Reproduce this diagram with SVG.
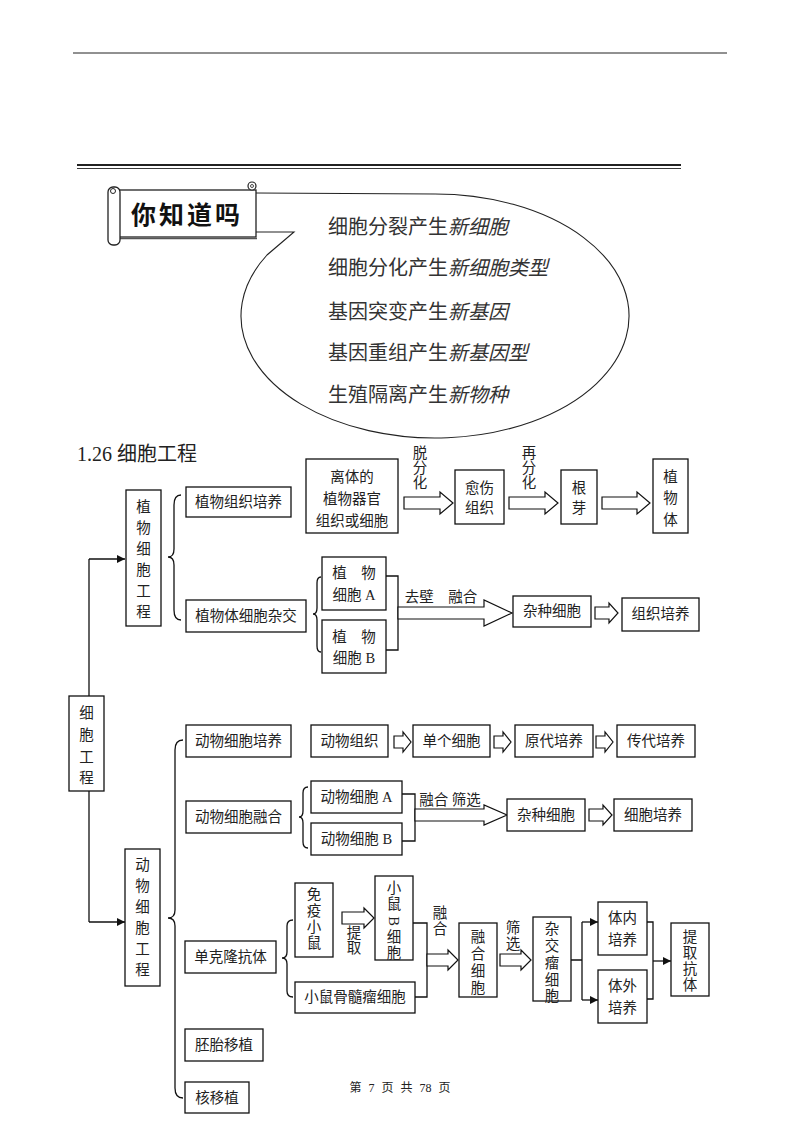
<svg xmlns="http://www.w3.org/2000/svg" width="800" height="1132" viewBox="0 0 800 1132">
<defs>
<style>
.b{fill:#fff;stroke:#111;stroke-width:1.3}
.t{font-family:"Liberation Serif","Noto Sans CJK SC",serif;font-size:14.5px;fill:#222;text-anchor:middle}
.ln{fill:none;stroke:#111;stroke-width:1.3}
.ha{fill:#fff;stroke:#111;stroke-width:1.2}
.bt{font-family:"Noto Sans CJK SC",sans-serif;font-size:20px;fill:#333}
</style>
<marker id="ah" viewBox="0 0 10 10" refX="10" refY="5" markerWidth="8" markerHeight="8" markerUnits="userSpaceOnUse" orient="auto">
<path d="M0,0 L10,5 L0,10 Z" fill="#111"/>
</marker>
</defs>
<rect width="800" height="1132" fill="#fff"/>

<!-- page header lines -->
<line x1="73" y1="53" x2="727" y2="53" stroke="#222" stroke-width="1"/>
<line x1="77" y1="165" x2="681" y2="165" stroke="#222" stroke-width="2.2"/>
<line x1="77" y1="168.5" x2="681" y2="168.5" stroke="#222" stroke-width="0.9"/>

<!-- speech bubble -->
<g id="bubble">
<path d="M256,193 L435,194 A194,122 0 1 1 267,255 L294,232 L256,232" fill="#fff" stroke="#222" stroke-width="1.1"/>
<text class="bt" x="328" y="234">细胞分裂产生<tspan font-style="italic">新细胞</tspan></text>
<text class="bt" x="328" y="275">细胞分化产生<tspan font-style="italic">新细胞类型</tspan></text>
<text class="bt" x="328" y="319">基因突变产生<tspan font-style="italic">新基因</tspan></text>
<text class="bt" x="328" y="360">基因重组产生<tspan font-style="italic">新基因型</tspan></text>
<text class="bt" x="328" y="402">生殖隔离产生<tspan font-style="italic">新物种</tspan></text>
</g>

<!-- banner -->
<g id="banner">
<rect x="115" y="190" width="141" height="47" fill="#fff" stroke="#222" stroke-width="1.3"/>
<line x1="118" y1="238.5" x2="257" y2="238.5" stroke="#555" stroke-width="1.5"/>
<rect x="108" y="187" width="12" height="58" rx="5" fill="#fff" stroke="#222" stroke-width="1.3"/>
<circle cx="113" cy="191" r="2.5" fill="none" stroke="#222" stroke-width="1"/>
<circle cx="252" cy="186" r="4" fill="#fff" stroke="#222" stroke-width="1.2"/>
<circle cx="252" cy="186" r="1.5" fill="none" stroke="#222" stroke-width="0.8"/>
<text x="187" y="224" font-family="'Noto Sans CJK SC',sans-serif" font-size="25" font-weight="bold" letter-spacing="3" fill="#111" text-anchor="middle">你知道吗</text>
</g>

<text x="77" y="461" font-family="'Liberation Serif','Noto Sans CJK SC',serif" font-size="20" fill="#222">1.26 细胞工程</text>

<!-- connectors -->
<g id="connectors">
<path class="ln" d="M89,922 L89,791 M89,696 L89,559"/>
<line class="ln" x1="89" y1="559" x2="125" y2="559" marker-end="url(#ah)"/>
<line class="ln" x1="89" y1="922" x2="125" y2="922" marker-end="url(#ah)"/>
<!-- braces -->
<path class="ln" d="M181,495 Q174,495 174,505 L174,549 Q174,557 168,557 Q174,557 174,565 L174,610 Q174,620 181,620"/>
<path class="ln" d="M183,740 Q175,740 175,750 L175,910 Q175,918 168,918 Q175,918 175,926 L175,1088 Q175,1098 183,1098"/>
<path class="ln" d="M321,577 Q317,577 317,583 L317,608 Q317,614 313,614 Q317,614 317,620 L317,646 Q317,652 321,652"/>
<path class="ln" d="M308,787 Q303,787 303,793 L303,811 Q303,817 299,817 Q303,817 303,823 L303,842 Q303,848 308,848"/>
<path class="ln" d="M293,920 Q287,920 287,926 L287,952 Q287,958 282,958 Q287,958 287,964 L287,991 Q287,997 293,997"/>
<!-- bracket joins -->
<path class="ln" d="M386,576 L398,576 L398,650 L386,650"/>
<path class="ln" d="M402,794 L415,794 L415,841 L402,841"/>
<path class="ln" d="M413,923 L427,923 L427,997 L415,997"/>
<path class="ln" d="M571,960 L582,960 M582,922 L582,1000"/>
<line class="ln" x1="582" y1="922" x2="598" y2="922" marker-end="url(#ah)"/>
<line class="ln" x1="582" y1="1000" x2="598" y2="1000" marker-end="url(#ah)"/>
<path class="ln" d="M647,922 L653,922 L653,999 L647,999"/>
<line class="ln" x1="653" y1="961" x2="671" y2="961" marker-end="url(#ah)"/>
<!-- hollow arrows -->
<path class="ha" d="M404,497 L440,497 L440,492 L453,503 L440,514 L440,509 L404,509 Z"/>
<path class="ha" d="M509,497 L545,497 L545,492 L558,503 L545,514 L545,509 L509,509 Z"/>
<path class="ha" d="M602,497 L637,497 L637,492 L650,503 L637,514 L637,509 L602,509 Z"/>
<path class="ha" d="M398,607 L484,607 L484,600 L512,613 L484,626 L484,619 L398,619 Z"/>
<path class="ha" d="M595,607 L609,607 L609,603 L618,613 L609,623 L609,619 L595,619 Z"/>
<path class="ha" d="M394,736 L403,736 L403,732 L411,742 L403,752 L403,748 L394,748 Z"/>
<path class="ha" d="M494,736 L503,736 L503,732 L511,742 L503,752 L503,748 L494,748 Z"/>
<path class="ha" d="M596,736 L605,736 L605,732 L613,742 L605,752 L605,748 L596,748 Z"/>
<path class="ha" d="M415,809 L484,809 L484,805 L507,815 L484,825 L484,821 L415,821 Z"/>
<path class="ha" d="M589,809 L603,809 L603,805 L612,815 L603,825 L603,821 L589,821 Z"/>
<path class="ha" d="M342,912 L364,912 L364,908 L374,918 L364,928 L364,924 L342,924 Z"/>
<path class="ha" d="M427,954 L448,954 L448,950 L458,960 L448,970 L448,966 L427,966 Z"/>
<path class="ha" d="M500,954 L521,954 L521,950 L531,960 L521,970 L521,966 L500,966 Z"/>
<!-- labels -->
<text class="t" x="420"><tspan x="420" y="458">脱</tspan><tspan x="420" y="473">分</tspan><tspan x="420" y="488">化</tspan></text>
<text class="t" x="529"><tspan x="529" y="458">再</tspan><tspan x="529" y="473">分</tspan><tspan x="529" y="488">化</tspan></text>
<text class="t" x="441" y="602">去壁　融合</text>
<text class="t" x="450" y="805">融合 筛选</text>
<text class="t"><tspan x="354" y="938">提</tspan><tspan x="354" y="953">取</tspan></text>
<text class="t"><tspan x="440" y="918">融</tspan><tspan x="440" y="934">合</tspan></text>
<text class="t"><tspan x="513" y="933">筛</tspan><tspan x="513" y="949">选</tspan></text>
</g>

<!-- root -->
<g id="n-root">
<rect class="b" x="69" y="696" width="35" height="95"/>
<text class="t"><tspan x="86.5" y="718">细</tspan><tspan x="86.5" y="740">胞</tspan><tspan x="86.5" y="762">工</tspan><tspan x="86.5" y="783">程</tspan></text>
</g>

<!-- plant -->
<g id="n-plant">
<rect class="b" x="126" y="490" width="35" height="136"/>
<text class="t"><tspan x="143.5" y="512">植</tspan><tspan x="143.5" y="533">物</tspan><tspan x="143.5" y="554">细</tspan><tspan x="143.5" y="575">胞</tspan><tspan x="143.5" y="596">工</tspan><tspan x="143.5" y="617">程</tspan></text>
</g>
<g id="n-ptc"><rect class="b" x="186" y="487" width="105" height="30"/><text class="t" x="238.5" y="507">植物组织培养</text></g>
<g id="n-psh"><rect class="b" x="186" y="600" width="120" height="32"/><text class="t" x="246" y="621">植物体细胞杂交</text></g>
<g id="n-explant"><rect class="b" x="306" y="459" width="92" height="74"/>
<text class="t"><tspan x="352" y="482">离体的</tspan><tspan x="352" y="504">植物器官</tspan><tspan x="352" y="526">组织或细胞</tspan></text></g>
<g id="n-callus"><rect class="b" x="455" y="470" width="49" height="54"/>
<text class="t"><tspan x="479.5" y="493">愈伤</tspan><tspan x="479.5" y="513">组织</tspan></text></g>
<g id="n-bud"><rect class="b" x="561" y="470" width="36" height="54"/>
<text class="t"><tspan x="579" y="493">根</tspan><tspan x="579" y="513">芽</tspan></text></g>
<g id="n-plantbody"><rect class="b" x="653" y="459" width="35" height="74"/>
<text class="t"><tspan x="670.5" y="482">植</tspan><tspan x="670.5" y="503">物</tspan><tspan x="670.5" y="525">体</tspan></text></g>
<g id="n-pa"><rect class="b" x="322" y="557" width="64" height="53"/>
<text class="t"><tspan x="354" y="578">植　物</tspan><tspan x="354" y="600">细胞 A</tspan></text></g>
<g id="n-pb"><rect class="b" x="322" y="620" width="64" height="53"/>
<text class="t"><tspan x="354" y="642">植　物</tspan><tspan x="354" y="663">细胞 B</tspan></text></g>
<g id="n-phyb"><rect class="b" x="513" y="596" width="78" height="31"/><text class="t" x="552" y="616">杂种细胞</text></g>
<g id="n-ptc2"><rect class="b" x="622" y="598" width="77" height="33"/><text class="t" x="660.5" y="619">组织培养</text></g>

<!-- animal -->
<g id="n-animal">
<rect class="b" x="125" y="849" width="35" height="137"/>
<text class="t"><tspan x="142.5" y="870">动</tspan><tspan x="142.5" y="891">物</tspan><tspan x="142.5" y="912">细</tspan><tspan x="142.5" y="933">胞</tspan><tspan x="142.5" y="954">工</tspan><tspan x="142.5" y="975">程</tspan></text>
</g>
<g id="n-act"><rect class="b" x="186" y="725" width="105" height="32"/><text class="t" x="238.5" y="746">动物细胞培养</text></g>
<g id="n-acf"><rect class="b" x="186" y="801" width="105" height="32"/><text class="t" x="238.5" y="822">动物细胞融合</text></g>
<g id="n-mab"><rect class="b" x="185" y="941" width="91" height="32"/><text class="t" x="230.5" y="962">单克隆抗体</text></g>
<g id="n-et"><rect class="b" x="185" y="1029" width="78" height="32"/><text class="t" x="224" y="1050">胚胎移植</text></g>
<g id="n-nt"><rect class="b" x="185" y="1082" width="64" height="31"/><text class="t" x="217" y="1103">核移植</text></g>

<g id="n-tissue"><rect class="b" x="311" y="725" width="77" height="32"/><text class="t" x="349.5" y="746">动物组织</text></g>
<g id="n-single"><rect class="b" x="413" y="725" width="77" height="32"/><text class="t" x="451.5" y="746">单个细胞</text></g>
<g id="n-primary"><rect class="b" x="515" y="725" width="78" height="32"/><text class="t" x="554" y="746">原代培养</text></g>
<g id="n-passage"><rect class="b" x="617" y="725" width="78" height="32"/><text class="t" x="656" y="746">传代培养</text></g>

<g id="n-aa"><rect class="b" x="311" y="781" width="91" height="32"/><text class="t" x="356.5" y="802">动物细胞 A</text></g>
<g id="n-ab"><rect class="b" x="311" y="823" width="91" height="32"/><text class="t" x="356.5" y="844">动物细胞 B</text></g>
<g id="n-ahyb"><rect class="b" x="507" y="799" width="78" height="32"/><text class="t" x="546" y="820">杂种细胞</text></g>
<g id="n-acul"><rect class="b" x="614" y="799" width="78" height="32"/><text class="t" x="653" y="820">细胞培养</text></g>

<g id="n-mouse"><rect class="b" x="295" y="883" width="38" height="74"/>
<text class="t"><tspan x="314" y="900">免</tspan><tspan x="314" y="916">疫</tspan><tspan x="314" y="932">小</tspan><tspan x="314" y="948">鼠</tspan></text></g>
<g id="n-bcell"><rect class="b" x="375" y="876" width="38" height="84"/>
<text class="t"><tspan x="394" y="893">小</tspan><tspan x="394" y="909">鼠</tspan></text>
<text class="t" transform="translate(394,921) rotate(90)" y="5" font-size="13">B</text>
<text class="t"><tspan x="394" y="942">细</tspan><tspan x="394" y="958">胞</tspan></text></g>
<g id="n-myeloma"><rect class="b" x="295" y="982" width="120" height="31"/><text class="t" x="355" y="1002">小鼠骨髓瘤细胞</text></g>
<g id="n-fused"><rect class="b" x="459" y="923" width="38" height="74"/>
<text class="t"><tspan x="478" y="942">融</tspan><tspan x="478" y="959">合</tspan><tspan x="478" y="976">细</tspan><tspan x="478" y="993">胞</tspan></text></g>
<g id="n-hybridoma"><rect class="b" x="533" y="917" width="38" height="84"/>
<text class="t"><tspan x="552" y="934">杂</tspan><tspan x="552" y="951">交</tspan><tspan x="552" y="968">瘤</tspan><tspan x="552" y="985">细</tspan><tspan x="552" y="1001">胞</tspan></text></g>
<g id="n-invivo"><rect class="b" x="598" y="902" width="49" height="53"/>
<text class="t"><tspan x="622.5" y="923">体内</tspan><tspan x="622.5" y="945">培养</tspan></text></g>
<g id="n-invitro"><rect class="b" x="598" y="970" width="49" height="53"/>
<text class="t"><tspan x="622.5" y="991">体外</tspan><tspan x="622.5" y="1013">培养</tspan></text></g>
<g id="n-extract"><rect class="b" x="671" y="923" width="38" height="73"/>
<text class="t"><tspan x="690" y="942">提</tspan><tspan x="690" y="958">取</tspan><tspan x="690" y="974">抗</tspan><tspan x="690" y="990">体</tspan></text></g>

<text x="400" y="1092" font-family="'Liberation Serif','Noto Sans CJK SC',serif" font-size="12" word-spacing="4" fill="#222" text-anchor="middle">第 7 页 共 78 页</text>
</svg>
